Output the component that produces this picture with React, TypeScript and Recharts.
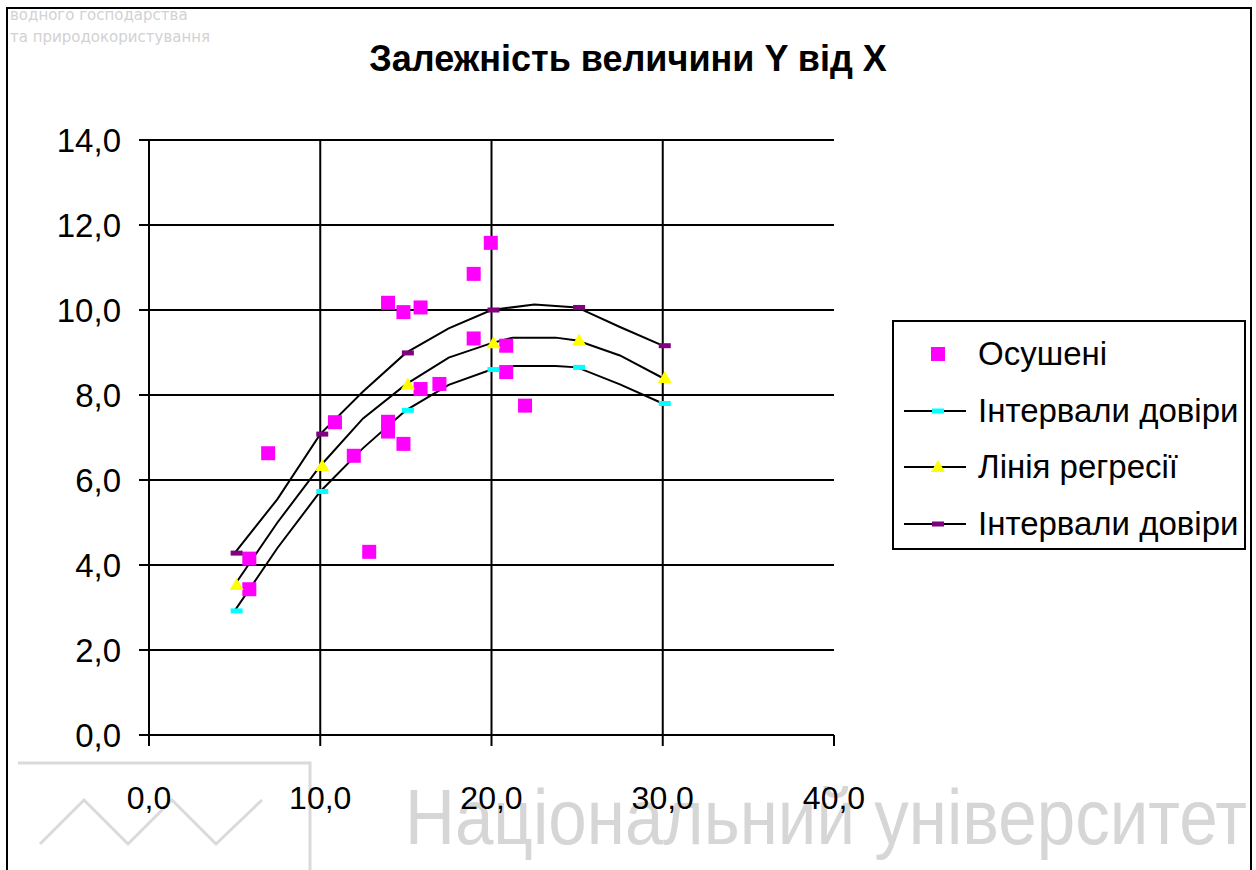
import React from 'react';
import { ComposedChart, Line, Scatter, XAxis, YAxis, ReferenceLine, Legend } from 'recharts';

// axis ticks and grid
const xTicks = [0, 10, 20, 30, 40];
const yTicks = [0, 2, 4, 6, 8, 10, 12, 14];
const gridX = [10, 20, 30];
const gridY = [2, 4, 6, 8, 10, 12, 14];

// "Осушені" observations
const drainedX = [5.8, 5.8, 6.9, 10.8, 11.9, 12.8, 13.9, 13.9, 14.8, 13.9, 14.8, 15.8, 15.8, 16.9, 18.9, 19.9, 18.9, 20.8, 20.8, 21.9];
const drainedY = [4.15, 3.43, 6.63, 7.36, 6.57, 4.31, 7.37, 7.14, 6.85, 10.17, 9.95, 10.06, 8.14, 8.26, 10.85, 11.58, 9.33, 9.16, 8.54, 7.75];

// regression line and confidence band
const curveX = [5, 7.5, 10, 12.5, 15, 17.5, 20, 21.25, 23.75, 25, 27.5, 30];
const lowerY = [2.92, 4.4, 5.73, 6.75, 7.64, 8.24, 8.6, 8.68, 8.68, 8.65, 8.25, 7.8];
const regressionY = [3.53, 5.0, 6.33, 7.45, 8.25, 8.88, 9.22, 9.35, 9.35, 9.28, 8.93, 8.4];
const upperX = [5, 7.5, 10, 12.5, 15, 17.5, 20, 22.5, 25, 27.5, 30];
const upperY = [4.28, 5.55, 7.08, 8.08, 8.99, 9.57, 10.0, 10.13, 10.06, 9.6, 9.16];
const markerX = [5, 10, 15, 20, 25, 30];

const CYAN = '#00ffff';
const YELLOW = '#ffff00';
const PURPLE = '#800080';
const MAGENTA = '#ff00ff';
const FONT = '"Liberation Sans", Arial, sans-serif';

const drained = drainedX.map((x, i) => ({ x, y: drainedY[i] }));
const lower = curveX.map((x, i) => ({ x, y: lowerY[i], marker: markerX.includes(x) }));
const regression = curveX.map((x, i) => ({ x, y: regressionY[i], marker: markerX.includes(x) }));
const upper = upperX.map((x, i) => ({ x, y: upperY[i], marker: markerX.includes(x) }));

const fmt = (v: number) => v.toFixed(1).replace('.', ',');

function Marker({ kind, cx, cy }: { kind: string; cx: number; cy: number }) {
  if (kind === 'square') {
    return <rect x={cx - 7} y={cy - 7} width={14} height={14} fill={MAGENTA} />;
  }
  if (kind === 'triangle') {
    return <polygon points={`${cx},${cy - 7} ${cx + 7},${cy + 5} ${cx - 7},${cy + 5}`} fill={YELLOW} />;
  }
  return <rect x={cx - 6} y={cy - 2.5} width={12} height={5} fill={kind} />;
}

function makeDot(kind: string) {
  return (props: any) => {
    const { cx, cy, payload, index } = props;
    if (!payload || !payload.marker || cx == null) return <g key={`d${index}`} />;
    return (
      <g key={`d${index}`}>
        <Marker kind={kind} cx={cx + 2} cy={cy} />
      </g>
    );
  };
}

const legendRows = [
  { label: 'Осушені', kind: 'square', line: false },
  { label: 'Інтервали довіри', kind: CYAN, line: true },
  { label: 'Лінія регресії', kind: 'triangle', line: true },
  { label: 'Інтервали довіри', kind: PURPLE, line: true },
];

function renderLegend() {
  return (
    <div
      style={{
        width: 350,
        height: 222,
        border: '2px solid #000',
        background: '#fff',
        boxSizing: 'content-box',
        paddingTop: 4,
      }}
    >
      {legendRows.map((row, i) => (
        <div key={i} style={{ display: 'flex', alignItems: 'center', height: 56.5 }}>
          <svg width={76} height={30} style={{ marginLeft: 8 }}>
            {row.line && <line x1={2} y1={15} x2={64} y2={15} stroke="#000" strokeWidth={2} />}
            <Marker kind={row.kind} cx={36} cy={15} />
          </svg>
          <span style={{ fontFamily: FONT, fontSize: 33, color: '#000', whiteSpace: 'nowrap' }}>{row.label}</span>
        </div>
      ))}
    </div>
  );
}

export default function App() {
  return (
    <div style={{ position: 'absolute', left: 0, top: 0, width: 1256, height: 870, overflow: 'hidden', background: '#fff' }}>
      {/* document watermark */}
      <div style={{ position: 'absolute', left: 10, top: 4, fontFamily: '"DejaVu Sans", sans-serif', fontSize: 15, color: '#d2d2d2', lineHeight: '22px' }}>
        <div>водного господарства</div>
        <div>та природокористування</div>
      </div>
      <svg width={1256} height={870} style={{ position: 'absolute', left: 0, top: 0 }}>
        <polyline points="18,763 310,763 310,870" fill="none" stroke="#dadada" strokeWidth={3} />
        <polyline points="40,844 84,800 128,844 172,800 216,844 262,800" fill="none" stroke="#dadada" strokeWidth={3} />
        <text x={405} y={844} fontFamily={FONT} fontSize={77} fill="#d6d6d6" textLength={842} lengthAdjust="spacingAndGlyphs">
          Національний університет
        </text>
      </svg>
      <div style={{ position: 'absolute', left: 6, top: 7, width: 1242, height: 900, border: '2px solid #000' }} />

      <div style={{ position: 'absolute', left: 0, top: 0, width: 1256, textAlign: 'center', paddingTop: 38 }}>
        <span style={{ fontFamily: FONT, fontSize: 36, fontWeight: 'bold' }}>Залежність величини Y від X</span>
      </div>

      <div style={{ position: 'absolute', left: 0, top: 0 }}>
        <ComposedChart width={1256} height={870} margin={{ top: 140, right: 422, bottom: 35, left: 9 }}>
          <XAxis
            type="number"
            dataKey="x"
            domain={[0, 40]}
            ticks={xTicks}
            tickFormatter={fmt}
            height={100}
            tickSize={11}
            tickMargin={40}
            stroke="#000"
            strokeWidth={2}
            tick={{ fill: '#000', fontSize: 32, fontFamily: FONT }}
            allowDataOverflow
          />
          <YAxis
            type="number"
            dataKey="y"
            domain={[0, 14]}
            ticks={yTicks}
            tickFormatter={fmt}
            width={140}
            tickSize={10}
            tickMargin={18}
            stroke="#000"
            strokeWidth={2}
            tick={{ fill: '#000', fontSize: 33, fontFamily: FONT }}
            allowDataOverflow
          />
          {gridY.map((v) => (
            <ReferenceLine key={`gy${v}`} y={v} stroke="#000" strokeWidth={2} />
          ))}
          {gridX.map((v) => (
            <ReferenceLine key={`gx${v}`} x={v} stroke="#000" strokeWidth={2} />
          ))}
          <Line data={lower} dataKey="y" type="linear" stroke="#000" strokeWidth={2} dot={makeDot(CYAN)} activeDot={false} isAnimationActive={false} legendType="none" />
          <Line data={regression} dataKey="y" type="linear" stroke="#000" strokeWidth={2} dot={makeDot('triangle')} activeDot={false} isAnimationActive={false} legendType="none" />
          <Line data={upper} dataKey="y" type="linear" stroke="#000" strokeWidth={2} dot={makeDot(PURPLE)} activeDot={false} isAnimationActive={false} legendType="none" />
          <Scatter
            data={drained}
            dataKey="y"
            fill={MAGENTA}
            isAnimationActive={false}
            shape={(p: any) => <Marker kind="square" cx={p.cx + 1} cy={p.cy} />}
          />
          <Legend
            layout="horizontal"
            align="center"
            verticalAlign="middle"
            content={renderLegend}
            wrapperStyle={{ left: 892, top: 320, width: 356, height: 228 }}
          />
        </ComposedChart>
      </div>
    </div>
  );
}
